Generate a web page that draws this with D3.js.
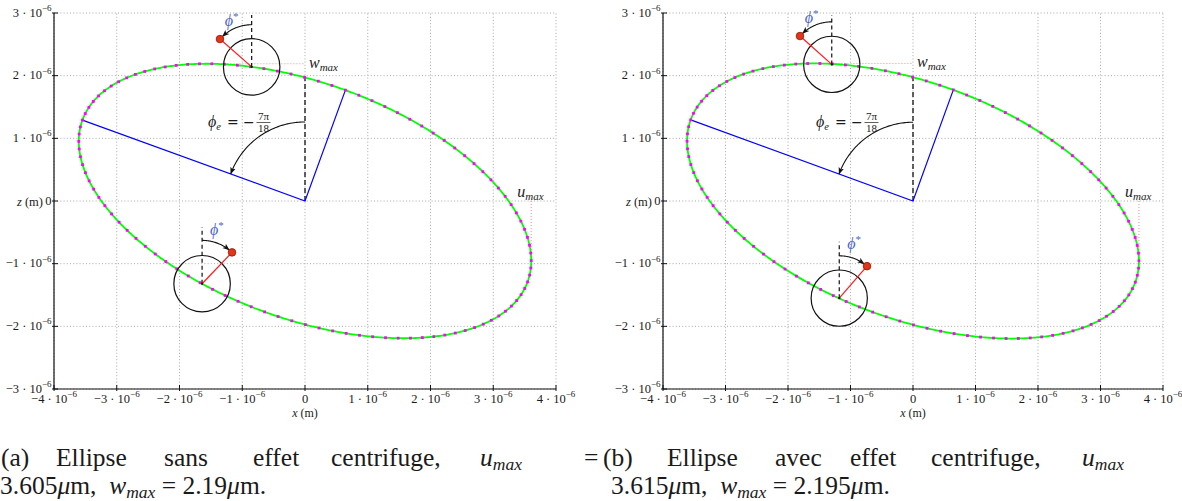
<!DOCTYPE html>
<html><head><meta charset="utf-8">
<script src="https://cdn.jsdelivr.net/npm/d3@7"></script>
<style>
body{margin:0;background:#fff}
svg{display:block}
text{font-family:"Liberation Serif","Times New Roman",serif;fill:#1a1a1a}
</style>
</head><body>
<svg id="c" width="1182" height="501"></svg>
<script>
// ---------- data (lengths in units of 1e-6 m) ----------
const xTicks = [-4, -3, -2, -1, 0, 1, 2, 3, 4];
const zTicks = [-3, -2, -1, 0, 1, 2, 3];
const tickExponent = -6;
const panelIds = ["a", "b"];
const uMax = [3.605, 3.615];
const wMax = [2.19, 2.195];
const phiE = -7 * Math.PI / 18;
const markerCount = 104;
const topPivotX = [-0.85, -1.30], topPivotZ = [2.14, 2.18];
const topBobX = [-1.355, -1.808], topBobZ = [2.584, 2.632];
const botPivotX = [-1.64, -1.18], botPivotZ = [-1.32, -1.55];
const botBobX = [-1.163, -0.736], botBobZ = [-0.82, -1.04];
const bobCircleR = 0.45;
const pendDashLen = 0.9;
const phiEArcR = 1.26;
const captionWords = [
  ["(a)", "Ellipse", "sans", "effet", "centrifuge,", "UMAX", "="],
  ["(b)", "Ellipse", "avec", "effet", "centrifuge,", "UMAX"]
];
const captionNum = [["3.605", "2.19"], ["3.615", "2.195"]];

// ---------- layout ----------
const panelLeft = [54, 663], panelRight = [556, 1163];
const plotTop = 13, plotBottom = 389;
const captionStarts = [[1, 56, 164, 253, 331, 480, 584], [603, 667, 775, 850, 931, 1082]];
const captionLine2X = [0, 611];

const svg = d3.select("#c");
const defs = svg.append("defs");
defs.append("marker").attr("id", "arr").attr("viewBox", "0 0 10 10")
  .attr("refX", 9.5).attr("refY", 5).attr("markerWidth", 7).attr("markerHeight", 7)
  .attr("markerUnits", "userSpaceOnUse").attr("orient", "auto")
  .append("path").attr("d", "M0,1 L10,5 L0,9 L2.5,5 Z").attr("fill", "#111");

function sci(t, v) {
  if (v === 0) { t.text("0"); return; }
  t.append("tspan").text((v < 0 ? "\u2212" : "") + Math.abs(v) + " \u00B7 10");
  t.append("tspan").attr("dy", -5.5).attr("font-size", 9).text("\u2212" + Math.abs(tickExponent));
}

function arcPoints(cx, cy, r, a0, a1, n) {
  return d3.range(n + 1).map(k => {
    const a = a0 + (a1 - a0) * k / n;
    return [cx + r * Math.cos(a), cy + r * Math.sin(a)];
  });
}

panelIds.forEach((id, i) => {
  const x = d3.scaleLinear().domain([xTicks[0], xTicks[xTicks.length - 1]]).range([panelLeft[i], panelRight[i]]);
  const z = d3.scaleLinear().domain([zTicks[0], zTicks[zTicks.length - 1]]).range([plotBottom, plotTop]);
  const g = svg.append("g");
  const lineP = d3.line().x(d => x(d[0])).y(d => z(d[1]));
  const linePx = d3.line();

  // grid
  g.selectAll(".vg").data(xTicks).join("line")
    .attr("x1", d => x(d)).attr("x2", d => x(d)).attr("y1", z(zTicks[0])).attr("y2", z(zTicks[zTicks.length - 1]))
    .attr("stroke", "#a8a8a8").attr("stroke-width", 1).attr("stroke-dasharray", "1,2.2");
  g.selectAll(".hg").data(zTicks).join("line")
    .attr("y1", d => z(d)).attr("y2", d => z(d)).attr("x1", x(xTicks[0])).attr("x2", x(xTicks[xTicks.length - 1]))
    .attr("stroke", "#a8a8a8").attr("stroke-width", 1).attr("stroke-dasharray", "1,2.2");

  // axes
  const ax = x(xTicks[0]), ay = z(zTicks[0]);
  g.append("line").attr("x1", ax).attr("x2", ax).attr("y1", z(zTicks[zTicks.length - 1])).attr("y2", ay).attr("stroke", "#111").attr("stroke-width", 1.2);
  g.append("line").attr("x1", ax).attr("x2", x(xTicks[xTicks.length - 1])).attr("y1", ay).attr("y2", ay).attr("stroke", "#111").attr("stroke-width", 1.2);
  g.selectAll(".yt").data(zTicks).join("line").attr("x1", ax - 2).attr("x2", ax + 4).attr("y1", d => z(d)).attr("y2", d => z(d)).attr("stroke", "#111");
  g.selectAll(".xt").data(xTicks).join("line").attr("y1", ay + 2).attr("y2", ay - 4).attr("x1", d => x(d)).attr("x2", d => x(d)).attr("stroke", "#111");

  // tick labels
  g.selectAll(".yl").data(zTicks).join("text")
    .attr("x", ax - 2.5).attr("y", d => z(d) + 3.5).attr("text-anchor", "end").attr("font-size", 12.5)
    .each(function (d) { sci(d3.select(this), d); });
  g.selectAll(".xl").data(xTicks).join("text")
    .attr("x", d => x(d)).attr("y", ay + 13.5).attr("text-anchor", "middle").attr("font-size", 12.5)
    .each(function (d) { sci(d3.select(this), d); });
  const zl = g.append("text").attr("x", ax - 11).attr("y", z(0) + 4.5).attr("text-anchor", "end").attr("font-size", 12.5);
  zl.append("tspan").attr("font-style", "italic").text("z");
  zl.append("tspan").text(" (m)");
  const xl = g.append("text").attr("x", x(0)).attr("y", ay + 27.5).attr("text-anchor", "middle").attr("font-size", 12);
  xl.append("tspan").attr("font-style", "italic").text("x");
  xl.append("tspan").text(" (m)");

  // ellipse geometry from u_max, w_max and phi_e
  const th = Math.PI / 2 - phiE, c = Math.cos(th), s = Math.sin(th);
  const den = c * c - s * s;
  const u = uMax[i], w = wMax[i];
  const A = Math.sqrt((u * u * c * c - w * w * s * s) / den);
  const B = Math.sqrt((w * w * c * c - u * u * s * s) / den);
  const P = t => [A * Math.cos(t) * c + B * Math.sin(t) * s, A * Math.cos(t) * s - B * Math.sin(t) * c];
  const k = c * s * (A * A - B * B);

  // pink guide lines for u_max and w_max
  g.append("path").attr("d", lineP([[u, 0], [u, k / u]])).attr("stroke", "#ff8c8c").attr("stroke-dasharray", "1,2").attr("fill", "none");
  g.append("path").attr("d", lineP([[k / w, w], [0, w]])).attr("stroke", "#ff8c8c").attr("stroke-dasharray", "1,2").attr("fill", "none");

  // dashed vertical at x=0 up to the ellipse
  const t0 = Math.atan2(-A * c, B * s);
  g.append("path").attr("d", lineP([[0, 0], [0, P(t0)[1]]])).attr("stroke", "#111").attr("stroke-width", 1.3).attr("stroke-dasharray", "5,3").attr("fill", "none");

  // blue axes of the ellipse
  g.append("path").attr("d", lineP([P(0), [0, 0], P(Math.PI / 2)])).attr("stroke", "#0000ff").attr("stroke-width", 1.2).attr("fill", "none");

  // phi_e arc
  const ox = x(0), oy = z(0), rE = x(phiEArcR) - x(0);
  const aMaj = Math.atan2(-s, c);
  g.append("path").attr("d", linePx(arcPoints(ox, oy, rE, -Math.PI / 2, aMaj, 60)))
    .attr("stroke", "#111").attr("stroke-width", 1.1).attr("fill", "none").attr("marker-end", "url(#arr)");

  // ellipse
  const curve = d3.range(0, 721).map(j => P(j * 2 * Math.PI / 720));
  g.append("path").attr("d", lineP(curve)).attr("stroke", "#00ff00").attr("stroke-width", 1.8).attr("fill", "none");
  g.selectAll(".mk").data(d3.range(markerCount).map(j => P(j * 2 * Math.PI / markerCount))).join("rect")
    .attr("x", d => x(d[0]) - 1.4).attr("y", d => z(d[1]) - 1.4).attr("width", 2.8).attr("height", 2.8).attr("fill", "#ff00ff");

  // pendulums
  const pends = [
    { px: topPivotX[i], pz: topPivotZ[i], bx: topBobX[i], bz: topBobZ[i] },
    { px: botPivotX[i], pz: botPivotZ[i], bx: botBobX[i], bz: botBobZ[i] }
  ];
  const cr = x(bobCircleR) - x(0);
  pends.forEach(p => {
    const cx = x(p.px), cy = z(p.pz), bx = x(p.bx), by = z(p.bz);
    g.append("circle").attr("cx", cx).attr("cy", cy).attr("r", cr).attr("fill", "none").attr("stroke", "#111").attr("stroke-width", 1.2);
    const topZ = Math.min(p.pz + pendDashLen, zTicks[zTicks.length - 1] - 0.03);
    g.append("path").attr("d", lineP([[p.px, p.pz], [p.px, topZ]])).attr("stroke", "#111").attr("stroke-width", 1.2).attr("stroke-dasharray", "4,3").attr("fill", "none");
    g.append("line").attr("x1", cx).attr("y1", cy).attr("x2", bx).attr("y2", by).attr("stroke", "#ff1a1a").attr("stroke-width", 1.2);
    const R = Math.hypot(bx - cx, by - cy);
    const a1 = Math.atan2(by - cy, bx - cx), a0 = -Math.PI / 2;
    const sg = Math.sign(a1 - a0);
    const aEnd = a1 - sg * (3.6 / R);
    g.append("path").attr("d", linePx(arcPoints(cx, cy, R, a0, aEnd, 40)))
      .attr("stroke", "#111").attr("stroke-width", 1.1).attr("fill", "none").attr("marker-end", "url(#arr)");
    g.append("rect").attr("x", cx - 1).attr("y", cy - 1).attr("width", 2).attr("height", 2).attr("fill", "#111");
    g.append("circle").attr("cx", bx).attr("cy", by).attr("r", 3.8).attr("fill", "#e0361a").attr("stroke", "#9a1200").attr("stroke-width", 0.8);
    const lt = g.append("text").attr("x", cx + (sg > 0 ? 8 : -27)).attr("y", cy - (sg > 0 ? 49 : 41)).attr("font-size", 16).style("fill", "#4a64c8");
    lt.append("tspan").attr("font-style", "italic").text("\u03D5");
    lt.append("tspan").attr("dy", -6).attr("font-size", 11).text("*");
  });

  // phi_e label
  const fe = g.append("text").attr("x", ox - 97).attr("y", oy - 74).attr("font-size", 16);
  fe.append("tspan").attr("font-style", "italic").text("\u03D5");
  fe.append("tspan").attr("dy", 3).attr("font-size", 10.5).attr("font-style", "italic").text("e");
  g.append("text").attr("x", ox - 78).attr("y", oy - 74).attr("font-size", 14).style("font-family", "DejaVu Serif").text("=");
  g.append("text").attr("x", ox - 62).attr("y", oy - 74).attr("font-size", 14).style("font-family", "DejaVu Serif").text("\u2212");
  g.append("text").attr("x", ox - 41.5).attr("y", oy - 81).attr("font-size", 11).attr("text-anchor", "middle").text("7\u03C0");
  g.append("line").attr("x1", ox - 48.5).attr("x2", ox - 34.5).attr("y1", oy - 78.5).attr("y2", oy - 78.5).attr("stroke", "#1a1a1a").attr("stroke-width", 0.7);
  g.append("text").attr("x", ox - 41.5).attr("y", oy - 69.5).attr("font-size", 11).attr("text-anchor", "middle").text("18");

  // w_max and u_max labels
  const wl = g.append("text").attr("x", ox + 4).attr("y", z(w) + 4).attr("font-size", 16).attr("font-style", "italic");
  wl.append("tspan").text("w");
  wl.append("tspan").attr("dy", 3).attr("font-size", 11).text("max");
  const ul = g.append("text").attr("x", x(u) - 14).attr("y", z(0) - 4).attr("font-size", 16).attr("font-style", "italic");
  ul.append("tspan").text("u");
  ul.append("tspan").attr("dy", 3).attr("font-size", 11).text("max");

  // caption
  const cg = svg.append("g").attr("font-size", 25.5);
  captionWords[i].forEach((wd, j) => {
    const t = cg.append("text").attr("x", captionStarts[i][j]).attr("y", 466);
    if (wd === "UMAX") {
      t.append("tspan").attr("font-style", "italic").text("u");
      t.append("tspan").attr("dy", 4).attr("font-size", 17.5).attr("font-style", "italic").text("max");
    } else t.text(wd);
  });
  const l2 = cg.append("text").attr("x", captionLine2X[i]).attr("y", 494);
  l2.append("tspan").text(captionNum[i][0]);
  l2.append("tspan").attr("font-style", "italic").text("\u03BC");
  l2.append("tspan").text("m,\u2002");
  l2.append("tspan").attr("font-style", "italic").text("w");
  l2.append("tspan").attr("dy", 4).attr("font-size", 17.5).attr("font-style", "italic").text("max");
  l2.append("tspan").attr("dy", -4).text(" = " + captionNum[i][1]);
  l2.append("tspan").attr("font-style", "italic").text("\u03BC");
  l2.append("tspan").text("m.");
});
</script>
</body></html>
